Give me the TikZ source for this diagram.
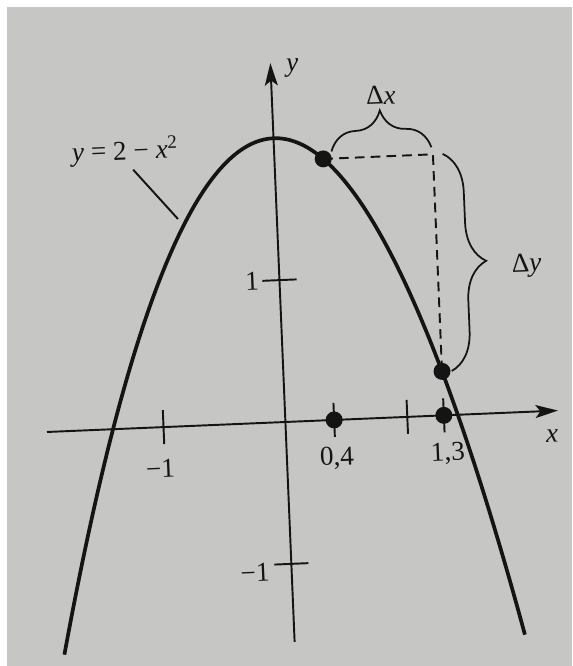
\documentclass[tikz,border=0pt]{standalone}
\usepackage{fontspec}
\setmainfont{Liberation Serif}
\usetikzlibrary{decorations.pathreplacing,arrows.meta}
\definecolor{paper}{RGB}{198,198,196}
\definecolor{ink}{RGB}{20,20,20}
\tikzset{
  axis/.style={draw=ink, line width=1.1pt, -{Stealth[length=0.45cm,width=0.26cm,inset=0.1cm]}},
  curve/.style={draw=ink, line width=2.1pt},
  tick/.style={draw=ink, line width=1.1pt},
  dot/.style={circle, fill=ink, inner sep=0pt, minimum size=0.34cm},
  guide/.style={draw=ink, line width=1.1pt, dash pattern=on 5.5pt off 3.5pt},
  curly/.style={draw=ink, line width=1pt, decorate, decoration={brace, amplitude=0.78cm}},
  lbl/.style={inner sep=1pt, text=ink},
}
\begin{document}
\begin{tikzpicture}
\useasboundingbox (0,0) rectangle (11.44,13.32);
\fill[white] (0,0) rectangle (11.44,13.32);
\fill[paper] (0.14,0) rectangle (11.44,13.18);
\begin{scope}[shift={(5.708cm,4.88cm)}, rotate=2.4, x=2.44cm, y=2.84cm,
  every node/.append style={transform shape}, font=\fontsize{15.5}{18}\selectfont]
  % axes
  \coordinate (xl) at (-1.956,0);
  \coordinate (xr) at (2.236,0);
  \coordinate (yb) at (0,-1.55);
  \coordinate (yt) at (0,2.53);
  \draw[axis] (xl) -- (xr);
  \draw[axis] (yb) -- (yt);
  \node[lbl] (lx) at (2.18,-0.18) {\textit{x}};
  \node[lbl] (ly) at (0.18,2.49) {\textit{y}};
  % ticks
  \foreach \t in {-1,0.4,1,1.3} \draw[tick] (\t,-0.12) -- (\t,0.12);
  \foreach \t in {-1,1} \draw[tick] (-0.14,\t) -- (0.14,\t);
  \node[lbl] (tm1) at (-1.04,-0.29) {−1};
  \node[lbl] (t04) at (0.41,-0.27) {0,4};
  \node[lbl] (t13) at (1.32,-0.27) {1,3};
  \node[lbl] (ty1) at (-0.225,1.0) {1};
  \node[lbl] (tym1) at (-0.30,-1.05) {−1};
  % curve
  \draw[curve] plot[domain=-1.89:1.89, samples=120, smooth] (\x,{2-\x*\x});
  % points
  \node[dot] (P) at (0.4,1.84) {};
  \node[dot] (Q) at (1.3,0.31) {};
  \node[dot] (A) at (0.4,0) {};
  \node[dot] (B) at (1.3,0) {};
  \coordinate (C) at (1.3,1.84);
  \draw[guide] (P.center) -- (C) -- (Q.center);
  % braces
  \coordinate (bx1) at (0.47,1.89);
  \coordinate (bx2) at (1.29,1.89);
  \draw[curly] (bx1) -- (bx2);
  \coordinate (by1) at (1.38,1.84);
  \coordinate (by2) at (1.38,0.31);
  \draw[curly] (by1) -- (by2);
  \node[lbl] (dx) at (0.894,2.27) {Δ\textit{x}};
  \node[lbl] (dy) at (2.03,1.03) {Δ\textit{y}};
  % function label
  \node[lbl] (fn) at (-1.22,1.95) {\textit{y} = 2 − \textit{x}\textsuperscript{2}};
  \coordinate (L1) at (-1.16,1.82);
  \coordinate (L2) at (-0.81,1.46);
  \draw[tick] (L1) -- (L2);
\end{scope}
\end{tikzpicture}
\end{document}
